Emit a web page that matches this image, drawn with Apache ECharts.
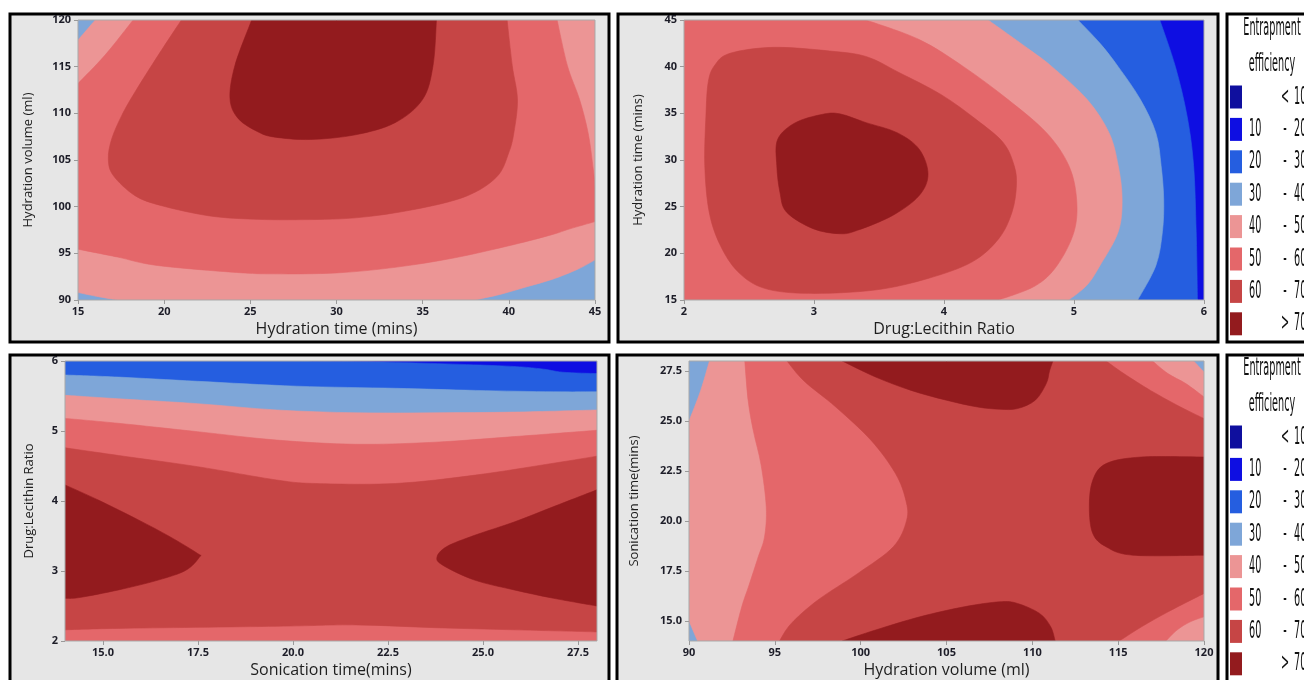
<!DOCTYPE html>
<html><head><meta charset="utf-8">
<script src="https://cdn.jsdelivr.net/npm/echarts@6/dist/echarts.min.js"></script>
<style>html,body{margin:0;padding:0;background:#fff;}#c{width:1304px;height:680px;}</style>
</head><body><div id="c"></div>
<script>
// ---- Legend / levels ----
const levelColors = ['#0f0f9e','#0e0ee2','#255ee0','#7ea6d8','#ec9595','#e4676a','#c64545','#931b1e'];
const legendFrom = ['', '10', '20', '30', '40', '50', '60', ''];
const legendSym  = ['<', '-', '-', '-', '-', '-', '-', '>'];
const legendTo   = ['10', '20', '30', '40', '50', '60', '70', '70'];
const legendTitle = ['Entrapment', 'efficiency'];

// ---- Panel 1: Hydration time vs Hydration volume ----
const p1X = [15, 45], p1Y = [90, 120];
const p1XTicks = [15, 20, 25, 30, 35, 40, 45];
const p1YTicks = [90, 95, 100, 105, 110, 115, 120];
const p1Names = ['Hydration time (mins)', 'Hydration volume (ml)'];
const p1Base = 3;
const p1Level40 = [[16.0,120],[45,120],[45,94.3],[44,93.3],[42.5,92.2],[41,91.4],[39.5,90.6],[38,90],[17.3,90],[16.2,90.35],[15,90.8],[15,117.85]];
const p1Level50 = [[18.2,120],[42.8,120],[43.4,115.1],[44.1,111.5],[44.6,107.9],[44.9,104],[45,102],[45,98.4],[43.5,97.6],[42.5,97.0],[40.2,95.9],[36.8,94.5],[33.4,93.5],[30,92.9],[26.4,92.8],[24.2,92.95],[19.6,93.7],[17.3,94.6],[15,95.45],[15,113.2],[16.57,116.24]];
const p1Level60 = [[21.0,120],[39.9,120],[40.2,115.1],[40.5,111.5],[40.3,108],[40.0,105.8],[39.3,103.2],[37.5,101.1],[34.5,99.7],[31.1,98.8],[27.6,98.6],[24.88,98.68],[22.56,99.03],[19.86,100.1],[18.31,101.18],[17.05,103.33],[16.76,105.13],[16.96,107.28],[17.54,109.78],[18.31,112.29],[19.66,116.24]];
const p1Level70 = [[25.08,120],[35.8,120],[35.6,115.1],[35.0,111.5],[33.4,109.0],[31.1,107.7],[28.5,107.2],[26.43,107.45],[25.46,108.0],[24.3,109.43],[23.82,111.58],[24.11,115.16]];

// ---- Panel 2: Drug:Lecithin Ratio vs Hydration time ----
const p2X = [2, 6], p2Y = [15, 45];
const p2XTicks = [2, 3, 4, 5, 6];
const p2YTicks = [15, 20, 25, 30, 35, 40, 45];
const p2Names = ['Drug:Lecithin Ratio', 'Hydration time (mins)'];
const p2Base = 1;
const p2Level20 = [[2,45],[5.66,45],[5.78,40.0],[5.87,34.7],[5.92,29.4],[5.94,22.3],[5.95,15],[2,15]];
const p2Level30 = [[2,45],[5.03,45],[5.2,42.5],[5.34,40.0],[5.51,36.5],[5.63,32.9],[5.67,29.4],[5.69,25.8],[5.68,22.3],[5.63,18.7],[5.49,15],[2,15]];
const p2Level40 = [[2,45],[4.34,45],[4.66,41.8],[4.83,40.0],[5.1,36.5],[5.27,32.9],[5.34,29.4],[5.37,25.8],[5.34,22.3],[5.2,18.7],[5.1,16.6],[4.96,15],[2,15]];
const p2Level50 = [[2,45],[3.40,45],[3.81,42.9],[4.15,40.0],[4.49,36.5],[4.79,32.9],[4.96,29.4],[5.02,25.8],[5.0,22.3],[4.87,18.7],[4.7,16.5],[4.42,15],[2,15]];
const p2Level60 = [[2.354,41.43],[2.685,42.07],[3.12,41.68],[3.405,41.07],[3.65,39.4],[3.979,37.0],[4.251,34.3],[4.455,31.87],[4.54,29.38],[4.557,27.25],[4.523,24.41],[4.421,21.57],[4.217,19.09],[3.877,17.31],[3.469,16.07],[2.959,15.71],[2.619,16.25],[2.415,18.02],[2.279,20.86],[2.194,24.41],[2.16,29.38],[2.169,34.82],[2.187,38.39],[2.238,40.18]];
const p2Level70 = [[2.721,32.22],[2.857,34.0],[3.061,34.88],[3.197,34.95],[3.401,34.0],[3.639,32.93],[3.809,31.16],[3.877,28.49],[3.809,26.19],[3.605,24.06],[3.333,22.46],[3.197,22.1],[2.993,22.64],[2.789,24.41],[2.738,26.54],[2.714,29.38]];

// ---- Panel 3: Sonication time vs Drug:Lecithin Ratio ----
const p3X = [14, 28], p3Y = [2, 6];
const p3XTicks = [15, 17.5, 20, 22.5, 25, 27.5];
const p3YTicks = [2, 3, 4, 5, 6];
const p3Names = ['Sonication time(mins)', 'Drug:Lecithin Ratio'];
const p3Base = 1;
const p3Level20 = [[14,6],[20.2,6],[22.7,5.98],[25.5,5.93],[26.5,5.89],[27.1,5.84],[28,5.82],[28,2],[14,2]];
const p3Level30 = [[14,5.80],[15.41,5.77],[17.49,5.71],[20.1,5.64],[22.7,5.61],[24.8,5.58],[26.86,5.56],[28,5.56],[28,2],[14,2]];
const p3Level40 = [[14,5.51],[15.41,5.46],[17.49,5.39],[19.57,5.30],[21.66,5.26],[23.74,5.26],[25.82,5.27],[28,5.30],[28,2],[14,2]];
const p3Level50 = [[14,5.18],[15.41,5.11],[17.49,4.99],[19.57,4.87],[21.66,4.81],[23.74,4.84],[25.82,4.92],[28,5.01],[28,2],[14,2]];
const p3Level60 = [[14,4.76],[15.41,4.65],[17.49,4.49],[19.57,4.30],[20.6,4.25],[22.7,4.25],[24.8,4.37],[26.86,4.54],[28,4.64],[28,2.13],[25.82,2.16],[23.74,2.19],[21.66,2.23],[19.57,2.21],[15.41,2.18],[14,2.16]];
const p3Level70a = [[14,4.23],[14.89,4.01],[15.93,3.73],[16.76,3.49],[17.49,3.25],[17.54,3.20],[17.18,3.01],[16.45,2.87],[15.41,2.73],[14.37,2.62],[14,2.61]];
const p3Level70b = [[28,4.16],[26.86,3.92],[25.82,3.70],[24.78,3.51],[24.05,3.35],[23.79,3.20],[23.95,3.08],[24.78,2.87],[25.82,2.73],[26.86,2.61],[28,2.50]];

// ---- Panel 4: Hydration volume vs Sonication time ----
const p4X = [90, 120], p4Y = [14, 28];
const p4XTicks = [90, 95, 100, 105, 110, 115, 120];
const p4YTicks = [15, 17.5, 20, 22.5, 25, 27.5];
const p4Names = ['Hydration volume (ml)', 'Sonication time(mins)'];
const p4Base = 3;
const p4Level40 = [[91.19,28],[119.4,28],[120,27.45],[120,14],[90.5,14],[90,15.0],[90,25.0],[90.67,26.5]];
const p4Level50 = [[93.25,28],[117.0,28],[117.9,27.37],[118.94,26.87],[120,26.2],[120,15.21],[119.2,14.96],[118.43,14.55],[117.78,14],[92.56,14],[93.07,15.7],[93.5,16.8],[94.03,18.2],[94.4,19.2],[94.5,20.7],[94.2,22.8],[93.75,24.5],[93.45,26]];
const p4Level60 = [[95.71,28],[114.3,28],[115.33,27.37],[116.88,26.53],[118.43,25.79],[120,25.12],[120,16.38],[117.91,15.46],[116.36,14.71],[115.07,14],[95.27,14],[95.96,14.88],[97.51,16.05],[99.84,17.38],[101.9,18.71],[102.68,20.04],[102.63,21.04],[102.03,22.37],[100.6,24.04],[98.55,25.7],[96.7,27.0]];
const p4Level70a = [[98.93,28],[100.87,27.2],[102.94,26.53],[105.0,26.04],[106.81,25.7],[108.1,25.59],[109.13,25.62],[110.17,26.04],[110.81,26.87],[111.0,27.5],[111.2,28]];
const p4Level70b = [[98.93,14],[100.87,14.55],[103.45,15.21],[106.03,15.71],[108.1,15.96],[109.13,15.88],[110.42,15.38],[111.07,14.71],[111.33,14]];
const p4Level70c = [[120,23.2],[116.36,23.2],[114.3,22.87],[113.52,22.04],[113.32,20.71],[113.52,19.38],[114.3,18.71],[115.85,18.29],[120,18.29]];

function rect(xr, yr) { return [[xr[0], yr[0]], [xr[1], yr[0]], [xr[1], yr[1]], [xr[0], yr[1]]]; }

const panels = [
  { g:{left:78, top:20, width:517, height:280}, x:p1X, y:p1Y, xt:p1XTicks, yt:p1YTicks, names:p1Names, dec:[0,0], gap:[21,43],
    regions:[[p1Base, rect(p1X,p1Y)],[4,p1Level40],[5,p1Level50],[6,p1Level60],[7,p1Level70]] },
  { g:{left:684, top:20, width:520, height:280}, x:p2X, y:p2Y, xt:p2XTicks, yt:p2YTicks, names:p2Names, dec:[0,0], gap:[21,39],
    regions:[[p2Base, rect(p2X,p2Y)],[2,p2Level20],[3,p2Level30],[4,p2Level40],[5,p2Level50],[6,p2Level60],[7,p2Level70]] },
  { g:{left:65, top:361, width:532, height:280}, x:p3X, y:p3Y, xt:p3XTicks, yt:p3YTicks, names:p3Names, dec:[1,0], gap:[21,29],
    regions:[[p3Base, rect(p3X,p3Y)],[2,p3Level20],[3,p3Level30],[4,p3Level40],[5,p3Level50],[6,p3Level60],[7,p3Level70a],[7,p3Level70b]] },
  { g:{left:689, top:361, width:515, height:280}, x:p4X, y:p4Y, xt:p4XTicks, yt:p4YTicks, names:p4Names, dec:[0,1], gap:[21,48],
    regions:[[p4Base, rect(p4X,p4Y)],[4,p4Level40],[5,p4Level50],[6,p4Level60],[7,p4Level70a],[7,p4Level70b],[7,p4Level70c]] }
];

// Smooth closed outline through the read-off vertices (pixel space); straight along plot edges.
function outlinePath(dataPts, px, xr, yr) {
  const n = dataPts.length;
  const onX = v => v[0] === xr[0] || v[0] === xr[1];
  const onY = v => v[1] === yr[0] || v[1] === yr[1];
  const isB = dataPts.map(v => onX(v) || onY(v));
  const same = (a, b) => (a[0] === b[0] && onX(a)) || (a[1] === b[1] && onY(a));
  const f = v => v[0].toFixed(2) + ' ' + v[1].toFixed(2);
  let d = 'M' + f(px[0]);
  for (let i = 0; i < n; i++) {
    const a = i, b = (i + 1) % n;
    const A = px[a], B = px[b];
    if (isB[a] && isB[b] && same(dataPts[a], dataPts[b])) { d += ' L' + f(B); continue; }
    const P = isB[a] ? A : px[(a - 1 + n) % n];
    const N = isB[b] ? B : px[(b + 1) % n];
    const c1 = [A[0] + (B[0] - P[0]) / 6, A[1] + (B[1] - P[1]) / 6];
    const c2 = [B[0] - (N[0] - A[0]) / 6, B[1] - (N[1] - A[1]) / 6];
    d += ' C' + f(c1) + ' ' + f(c2) + ' ' + f(B);
  }
  return d + ' Z';
}

const tickLabel = { fontSize:11, fontWeight:'bold', color:'#1d1d28', fontFamily:'"Open Sans", "DejaVu Sans", sans-serif' };
const grids = [], xAxes = [], yAxes = [], series = [];
panels.forEach((p, i) => {
  grids.push(Object.assign({ show:true, borderColor:'#a9a9a9', borderWidth:1, backgroundColor:'transparent', containLabel:false, outerBoundsMode:'none', z:10 }, p.g));
  xAxes.push({ type:'value', gridIndex:i, min:p.x[0], max:p.x[1], name:p.names[0], nameLocation:'middle', nameGap:p.gap[0], nameMoveOverlap:false,
    nameTextStyle:{ fontSize:16, color:'#1e1e1e', fontFamily:'"Open Sans", sans-serif' },
    axisLine:{show:false}, splitLine:{show:false}, z:10,
    axisTick:{show:true, length:4, lineStyle:{color:'#9a9a9a'}, customValues:p.xt},
    axisLabel:Object.assign({ customValues:p.xt, margin:6, showMinLabel:true, showMaxLabel:true, hideOverlap:false, formatter:v => Number(v).toFixed(p.dec[0]) }, tickLabel) });
  yAxes.push({ type:'value', gridIndex:i, min:p.y[0], max:p.y[1], name:p.names[1], nameLocation:'middle', nameGap:p.gap[1], nameMoveOverlap:false,
    nameTextStyle:{ fontSize:13, color:'#1e1e1e', fontFamily:'"Open Sans", sans-serif' },
    axisLine:{show:false}, splitLine:{show:false}, z:10,
    axisTick:{show:true, length:4, lineStyle:{color:'#9a9a9a'}, customValues:p.yt},
    axisLabel:Object.assign({ customValues:p.yt, margin:7, showMinLabel:true, showMaxLabel:true, hideOverlap:false, formatter:v => Number(v).toFixed(p.dec[1]) }, tickLabel) });
  const regs = p.regions;
  series.push({ type:'custom', coordinateSystem:'cartesian2d', xAxisIndex:i, yAxisIndex:i, clip:true, silent:true, animation:false, z:2,
    data: regs.map(r => r[1][0]),
    renderItem: (params, api) => {
      const r = regs[params.dataIndex];
      const px = r[1].map(pt => api.coord(pt));
      return { type:'path', shape:{ pathData: outlinePath(r[1], px, p.x, p.y) },
        style:{ fill: levelColors[r[0]], stroke: levelColors[r[0]], lineWidth: 0.6 } };
    } });
});

// ---- frames and legends ----
const graphics = [];
const frames = [[10,14,599,328,'#e6e6e6'],[618,14,600,328,'#e6e6e6'],[10,355,599,345,'#e6e6e6'],[617,355,601,345,'#e6e6e6'],[1227,14,100,328,'#ffffff'],[1227,355,100,345,'#ffffff']];
frames.forEach(f => graphics.push({ type:'rect', z:-10, silent:true, shape:{x:f[0], y:f[1], width:f[2], height:f[3]}, style:{ fill:f[4], stroke:'#000', lineWidth:3 } }));
const legFont = '25px "Liberation Sans Narrow", "DejaVu Sans Condensed", sans-serif';
const SX = 0.43;
[0, 340].forEach(dy => {
  graphics.push({ type:'text', x:1272, y:28+dy, scaleX:SX, silent:true, style:{ text:legendTitle[0], font:legFont, fill:'#111', textAlign:'center', textVerticalAlign:'middle' } });
  graphics.push({ type:'text', x:1272, y:64+dy, scaleX:SX, silent:true, style:{ text:legendTitle[1], font:legFont, fill:'#111', textAlign:'center', textVerticalAlign:'middle' } });
  levelColors.forEach((c, k) => {
    const cy = 97 + k * 32.4 + dy;
    graphics.push({ type:'rect', silent:true, shape:{ x:1230, y:cy-11.5, width:12, height:23 }, style:{ fill:c } });
    if (legendFrom[k]) graphics.push({ type:'text', x:1249, y:cy, scaleX:SX, silent:true, style:{ text:legendFrom[k], font:legFont, fill:'#111', textAlign:'left', textVerticalAlign:'middle' } });
    graphics.push({ type:'text', x:1285, y:cy, scaleX:SX, silent:true, style:{ text:legendSym[k], font:legFont, fill:'#111', textAlign:'center', textVerticalAlign:'middle' } });
    graphics.push({ type:'text', x:1294, y:cy, scaleX:SX, silent:true, style:{ text:legendTo[k], font:legFont, fill:'#111', textAlign:'left', textVerticalAlign:'middle' } });
  });
});

const chart = echarts.init(document.getElementById('c'), null, { renderer:'canvas' });
chart.setOption({ backgroundColor:'#ffffff', animation:false, grid:grids, xAxis:xAxes, yAxis:yAxes, series:series, graphic:{ elements:graphics } });
</script></body></html>
